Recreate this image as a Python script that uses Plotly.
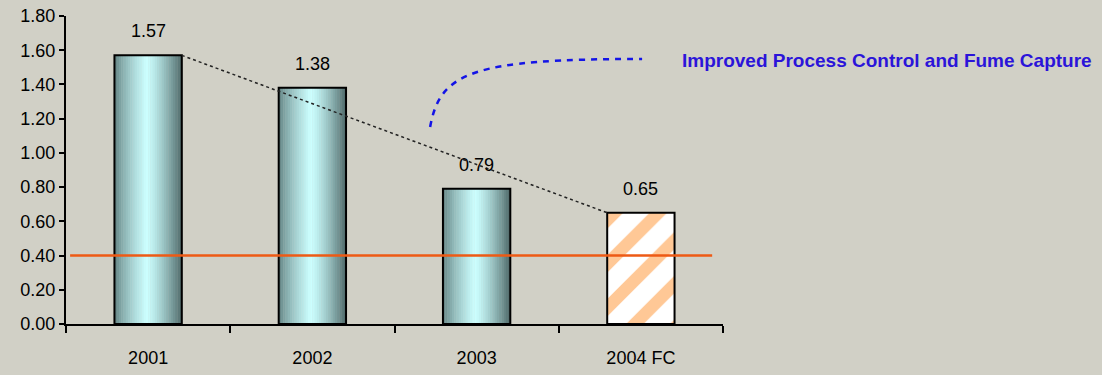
import plotly.graph_objects as go

# Data
categories = ["2001", "2002", "2003", "2004 FC"]
values = [1.57, 1.38, 0.79, 0.65]
value_labels = ["1.57", "1.38", "0.79", "0.65"]
target_level = 0.40
forecast_flags = [False, False, False, True]
y_tick_vals = [0.0, 0.2, 0.4, 0.6, 0.8, 1.0, 1.2, 1.4, 1.6, 1.8]
note_text = "Improved Process Control and Fume Capture"

BG = "#d1d0c6"
BAR_W = 0.41
FONT = "Liberation Sans, Arial"
x_pos = list(range(len(categories)))

fig = go.Figure()

# Cylinder-style shading for the actual-year bars: thin vertical strips
dark_l = (92, 122, 122)
dark_r = (78, 104, 104)
light = (204, 255, 255)
n_strips = 30
peak = 0.47
actual_x = [x for x, f in zip(x_pos, forecast_flags) if not f]
actual_y = [v for v, f in zip(values, forecast_flags) if not f]
strip_w = BAR_W / n_strips
for i in range(n_strips):
    t = (i + 0.5) / n_strips
    if t <= peak:
        u = (t / peak) ** 0.7
        c = [dark_l[k] + (light[k] - dark_l[k]) * u for k in range(3)]
    else:
        u = ((t - peak) / (1 - peak)) ** 1.3
        c = [light[k] + (dark_r[k] - light[k]) * u for k in range(3)]
    col = "rgb(%d,%d,%d)" % tuple(int(round(v)) for v in c)
    fig.add_trace(go.Bar(
        x=actual_x, y=actual_y,
        width=strip_w * 1.15,
        offset=-BAR_W / 2 + i * strip_w,
        marker=dict(color=col, line=dict(width=0)),
        hoverinfo="skip", showlegend=False,
    ))

# Forecast bar with diagonal hatch
fc_x = [x for x, f in zip(x_pos, forecast_flags) if f]
fc_y = [v for v, f in zip(values, forecast_flags) if f]
fig.add_trace(go.Bar(
    x=fc_x, y=fc_y, width=BAR_W, offset=-BAR_W / 2,
    marker=dict(
        color="white",
        pattern=dict(shape="/", fgcolor="#ffc896", bgcolor="white",
                     size=31, solidity=0.4, fillmode="replace"),
        line=dict(width=0),
    ),
    hoverinfo="skip", showlegend=False,
))

# Outlines for all bars
fig.add_trace(go.Bar(
    x=x_pos, y=values, width=BAR_W, offset=-BAR_W / 2,
    marker=dict(color="rgba(0,0,0,0)", line=dict(color="black", width=2)),
    hoverinfo="skip", showlegend=False,
))

fig.update_layout(barmode="overlay")

# Target line
fig.add_shape(type="line", xref="x", yref="y",
              x0=-0.475, x1=3.434, y0=target_level, y1=target_level,
              line=dict(color="#ee5a14", width=2.5), layer="above")

# Dotted trend line from first bar top to forecast bar top
fig.add_shape(type="line", xref="x", yref="y",
              x0=x_pos[0] + BAR_W / 2, y0=values[0],
              x1=x_pos[-1] - BAR_W / 2, y1=values[-1],
              line=dict(color="#222222", width=1.5, dash="dot"), layer="above")

# Dashed curved leader toward the note
def px_to_data(px, py):
    return ((px - 148) / 164.25, (324 - py) / 171.1)

p0 = px_to_data(430, 127)
c1 = px_to_data(440, 72)
c2 = px_to_data(472, 59)
p3 = px_to_data(642, 59)
path = "M %f,%f C %f,%f %f,%f %f,%f" % (p0 + c1 + c2 + p3)
fig.add_shape(type="path", xref="x", yref="y", path=path,
              line=dict(color="#1414e6", width=2.5, dash="6px,6px"))

# Value labels above bars
for x, v, lab in zip(x_pos, values, value_labels):
    fig.add_annotation(x=x, y=v, text=lab, showarrow=False,
                       yanchor="bottom", yshift=12,
                       font=dict(family=FONT, size=18, color="black"))

fig.add_annotation(xref="paper", yref="paper", x=(680 - 66) / 657, y=(324 - 60) / 308,
                   xanchor="left", yanchor="middle", text="<b>%s</b>" % note_text,
                   showarrow=False,
                   font=dict(family=FONT, size=19, color="#2b14d9"))

fig.update_xaxes(
    range=[-0.5, 3.5], tickvals=x_pos, ticktext=categories,
    ticks="", showline=True, linecolor="black", linewidth=2,
    showgrid=False, zeroline=False, automargin=False,
    tickfont=dict(family=FONT, size=18, color="black"),
    ticklabelstandoff=16,
    minor=dict(tickvals=[-0.5, 0.5, 1.5, 2.5, 3.5], ticks="outside",
               ticklen=7, tickwidth=2, tickcolor="black", showgrid=False),
)
fig.update_yaxes(
    range=[0, 1.8], tickvals=y_tick_vals, tickformat=".2f",
    ticks="outside", ticklen=5, tickwidth=2, tickcolor="black",
    showline=True, linecolor="black", linewidth=2,
    showgrid=False, zeroline=False, automargin=False,
    tickfont=dict(family=FONT, size=18, color="black"),
)

fig.update_layout(
    width=1102, height=375,
    margin=dict(l=66, r=379, t=16, b=51, autoexpand=False),
    paper_bgcolor=BG, plot_bgcolor=BG,
    showlegend=False,
)

fig.write_html("out.html")
